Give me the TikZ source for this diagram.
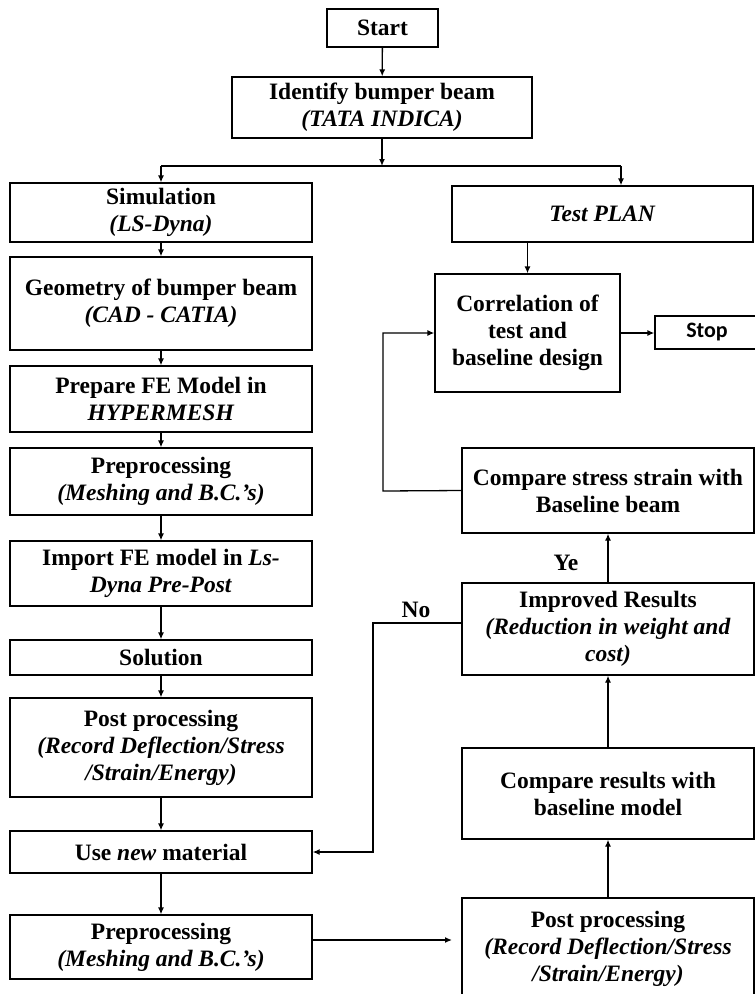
\documentclass[tikz,border=0pt]{standalone}
\usepackage{fontspec}
\setmainfont{Liberation Serif}
\newfontfamily\stopfont{Carlito}
\usetikzlibrary{positioning,arrows,arrows.meta,calc}

\begin{document}
\begin{tikzpicture}[x=1pt,y=-1pt,>={Latex[length=7pt,width=6pt]},line width=1.3pt,
    box/.style={draw,align=center,inner sep=2pt,font=\fontsize{23.5}{27}\selectfont\bfseries},
    lbox/.style={box,minimum width=302pt},
    rbox/.style={box,minimum width=292pt},
    lbl/.style={font=\fontsize{23.5}{27}\selectfont\bfseries}]
    \useasboundingbox (0,0) rectangle (755,994);
    \fill[white] (0,0) rectangle (755,994);
    % top of the chart
    \node[box,minimum width=111pt,minimum height=38pt] (start) at (382.5,28) {Start};
    \node[box,minimum width=300pt,minimum height=61pt] (ident) at (382,107.5) {Identify bumper beam\\ \textit{(TATA INDICA)}};
    % simulation side
    \node[lbox,minimum height=59pt] (sim) at (161,212.5) {Simulation\\ \textit{(LS-Dyna)}};
    \node[lbox,minimum height=93pt] (geom) at (161,303.5) {Geometry of bumper beam\\ \textit{(CAD - CATIA)}};
    \node[lbox,minimum height=66pt] (prep) at (161,399) {Prepare FE Model in\\ \textit{HYPERMESH}};
    \node[lbox,minimum height=67pt] (pre) at (161,481.5) {Preprocessing\\ \textit{(Meshing and B.C.’s)}};
    \node[lbox,minimum height=65pt] (imp) at (161,573.5) {Import FE model in \textit{Ls-}\\ \textit{Dyna Pre-Post}};
    \node[lbox,minimum height=35pt] (sol) at (161,657.5) {Solution};
    \node[lbox,minimum height=99pt] (post) at (161,747.5) {Post processing\\ \textit{(Record Deflection/Stress}\\ \textit{/Strain/Energy)}};
    \node[lbox,minimum height=42pt] (newmat) at (161,852) {Use \textit{new} material};
    \node[lbox,minimum height=64pt] (pre2) at (161,947) {Preprocessing\\ \textit{(Meshing and B.C.’s)}};
    % test side
    \node[box,minimum width=301pt,minimum height=56pt] (test) at (602.5,214) {\textit{Test PLAN}};
    \node[box,minimum width=185pt,minimum height=118pt] (corr) at (527.5,333) {Correlation of\\ test and\\ baseline design};
    \node[box,minimum width=104pt,minimum height=33pt,font=\fontsize{22}{24}\selectfont\stopfont\bfseries] (stop) at (707,332.5) {Stop};
    \node[rbox,minimum height=85pt] (cmpss) at (608,490.5) {Compare stress strain with\\ Baseline beam};
    \node[rbox,minimum height=92pt] (impr) at (608,629) {Improved Results\\ \textit{(Reduction in weight and}\\ \textit{cost)}};
    \node[rbox,minimum height=91pt] (cmpres) at (608,793.5) {Compare results with\\ baseline model};
    \node[rbox,minimum height=102pt] (post2) at (608,949) {Post processing\\ \textit{(Record Deflection/Stress}\\ \textit{/Strain/Energy)}};
    % branch
    \coordinate (split) at (382,166);
    \coordinate (tbranch) at (621,166);
    \draw[->] (start) -- (ident);
    \draw[->] (ident.south) -- (split);
    \draw (split -| sim) -- (tbranch);
    \draw[->] (split -| sim) -- (sim);
    \draw[->] (tbranch) -- (tbranch |- test.north);
    % left column
    \draw[->] (sim) -- (geom);
    \draw[->] (geom) -- (prep);
    \draw[->] (prep) -- (pre);
    \draw[->] (pre) -- (imp);
    \draw[->] (imp) -- (sol);
    \draw[->] (sol) -- (post);
    \draw[->] (post) -- (newmat);
    \draw[->] (newmat) -- (pre2);
    \coordinate (outpt) at (452,940);
    \draw[->] (outpt -| pre2.east) -- (outpt);
    % right column
    \draw[->] (test.south -| corr) -- (corr);
    \draw[->] (corr.east) -- (corr.east -| stop.west);
    \draw[->] (post2) -- (cmpres);
    \draw[->] (cmpres) -- (impr);
    \draw[->] (impr) -- (cmpss);
    \coordinate (back) at (383,491);
    \draw[->] (cmpss.west) -- (back) |- (corr.west);
    \coordinate (nopt) at (373,623);
    \draw[->] (nopt -| impr.west) -- (nopt) |- (newmat.east);
    \node[lbl] (yes) at (566,563) {Ye}; %label
    \node[lbl] (no) at (416,610) {No}; %label
\end{tikzpicture}
\end{document}
